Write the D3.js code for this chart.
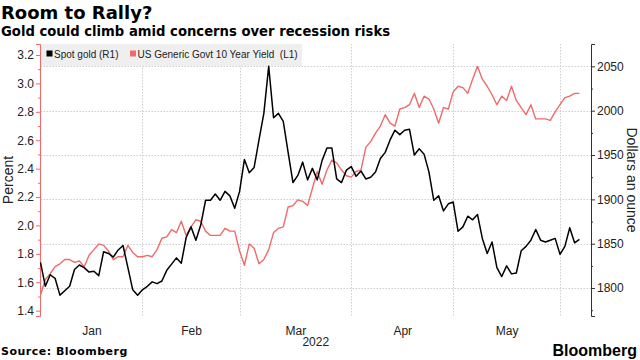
<!DOCTYPE html>
<html>
<head>
<meta charset="utf-8">
<script src="https://cdn.jsdelivr.net/npm/d3@7"></script>
<style>
  html, body { margin: 0; padding: 0; background: #fff; }
  svg { display: block; }
  text { font-family: "Liberation Sans", Arial, sans-serif; }
</style>
</head>
<body>
<svg id="chart" width="640" height="360"></svg>
<script>
// ---- Data (one value per weekday, Dec 31 2021 .. Jun 6 2022) ----
const goldPrice = [
  1829, 1802, 1815, 1811, 1792, 1797, 1802, 1821, 1826, 1823,
  1818, 1819, 1814, 1841, 1839, 1835, 1843, 1848, 1823, 1798,
  1792, 1798, 1802, 1807, 1805, 1808, 1820, 1827, 1834, 1828,
  1857, 1869, 1854, 1871, 1899, 1899, 1906, 1899, 1909, 1904,
  1890, 1909, 1945, 1930, 1936, 1967, 1997, 2050, 1992, 1997,
  1988, 1953, 1919, 1927, 1942, 1922, 1935, 1922, 1944, 1958,
  1958, 1923, 1919, 1933, 1937, 1926, 1932, 1923, 1925, 1931,
  1946, 1953, 1967, 1978, 1973, 1978, 1979, 1950, 1957, 1951,
  1931, 1899, 1904, 1887, 1895, 1897, 1864, 1869, 1881, 1877,
  1883, 1856, 1839, 1852, 1823, 1813, 1825, 1816, 1817, 1842,
  1847, 1854, 1866, 1854, 1852, 1854, 1856, 1838, 1847, 1868,
  1851, 1855
];
const yield10y = [
  1.51, 1.62, 1.66, 1.71, 1.73, 1.76, 1.76, 1.74, 1.75, 1.71,
  1.79, 1.83, 1.87, 1.86, 1.82, 1.76, 1.78, 1.78, 1.86, 1.81,
  1.78, 1.78, 1.79, 1.78, 1.83, 1.91, 1.92, 1.97, 1.95, 2.03,
  1.93, 1.99, 2.04, 2.03, 1.96, 1.93, 1.93, 1.93, 1.98, 1.96,
  1.96, 1.82, 1.72, 1.87, 1.84, 1.73, 1.76, 1.83, 1.95, 1.98,
  1.99, 2.13, 2.14, 2.18, 2.17, 2.14, 2.26, 2.38, 2.29, 2.39,
  2.46, 2.44, 2.39, 2.35, 2.34, 2.38, 2.39, 2.55, 2.59, 2.65,
  2.70, 2.78, 2.72, 2.70, 2.82, 2.83, 2.85, 2.93, 2.83, 2.91,
  2.89, 2.82, 2.72, 2.83, 2.82, 2.94, 2.98, 2.97, 2.93, 3.03,
  3.12, 3.03, 2.98, 2.92, 2.85, 2.91, 2.88, 2.98, 2.88, 2.83,
  2.78, 2.85, 2.75, 2.75, 2.75, 2.74, 2.80, 2.85, 2.90, 2.91,
  2.93, 2.93
];
const months = ["Jan", "Feb", "Mar", "Apr", "May"];
const monthBounds = [0, 21, 41, 64, 85, 107];   // weekday index of month boundaries
const yearLabel = "2022";
const yieldTicks = [1.4, 1.6, 1.8, 2.0, 2.2, 2.4, 2.6, 2.8, 3.0, 3.2];
const yieldMinor = [1.5, 1.7, 1.9, 2.1, 2.3, 2.5, 2.7, 2.9, 3.1];
const goldTicks = [1800, 1850, 1900, 1950, 2000, 2050];
const goldMinor = [1775, 1825, 1875, 1925, 1975, 2025];
const seriesNames = ["Spot gold (R1)", "US Generic Govt 10 Year Yield  (L1)"];

// ---- Layout ----
const svg = d3.select("#chart");
const L = 40.5, R = 591, T = 44, B = 316;
const RED = "#ef6b6b";

const x = d3.scaleLinear().domain([0, 113.38]).range([L, R]);
const yY = d3.scaleLinear().domain([1.3627, 3.2774]).range([B, T]);
const yG = d3.scaleLinear().domain([1768.5, 2075.2]).range([B, T]);

// Titles
svg.append("text").attr("x", 1).attr("y", 19)
  .style("font-family", "'DejaVu Sans', sans-serif").style("font-weight", "bold")
  .style("font-size", "18px").attr("fill", "#000").text("Room to Rally?");
svg.append("text").attr("x", 1).attr("y", 36)
  .style("font-family", "'DejaVu Sans', sans-serif").style("font-weight", "bold")
  .style("font-size", "13.2px").attr("fill", "#000").text("Gold could climb amid concerns over recession risks");

// Gridlines (horizontal from right axis ticks)
const grid = svg.append("g");
grid.selectAll("line.h").data(goldTicks).join("line")
  .attr("x1", L).attr("x2", R)
  .attr("y1", d => Math.round(yG(d)) + 0.5).attr("y2", d => Math.round(yG(d)) + 0.5)
  .attr("stroke", "#cfcfcf").attr("stroke-dasharray", "1.5,1.5");
grid.selectAll("line.v").data(monthBounds.slice(1)).join("line")
  .attr("x1", d => Math.round(x(d)) + 0.5).attr("x2", d => Math.round(x(d)) + 0.5)
  .attr("y1", T).attr("y2", B)
  .attr("stroke", "#cfcfcf").attr("stroke-dasharray", "1.5,1.5");

// Legend
const leg = svg.append("g");
leg.append("rect").attr("x", 40).attr("y", 44).attr("width", 262).attr("height", 22).attr("fill", "#efefef");
leg.append("rect").attr("x", 46.5).attr("y", 50.5).attr("width", 6).attr("height", 6).attr("fill", "#000");
leg.append("text").attr("x", 54).attr("y", 57.5).style("font-size", "10px").style("white-space", "pre")
  .attr("fill", "#222").text(seriesNames[0]);
leg.append("rect").attr("x", 130).attr("y", 50.5).attr("width", 6).attr("height", 6).attr("fill", RED);
leg.append("text").attr("x", 137.5).attr("y", 57.5).style("font-size", "10px").style("white-space", "pre")
  .attr("fill", "#222").text(seriesNames[1]);

// Left axis (yield)
const gl = svg.append("g").attr("transform", `translate(${L - 0.5},0)`);
gl.call(d3.axisLeft(yY).tickValues(yieldTicks).tickSize(4).tickPadding(2).tickFormat(d3.format(".1f")));
gl.append("g").call(d3.axisLeft(yY).tickValues(yieldMinor).tickSize(2).tickFormat(""))
  .select(".domain").remove();
gl.selectAll("path.domain").attr("stroke", RED);
gl.selectAll("line").attr("stroke", RED);
gl.selectAll("text").style("font-size", "12px").style("font-family", "'Liberation Sans', Arial, sans-serif").attr("fill", "#222");

// Right axis (gold)
const gr = svg.append("g").attr("transform", `translate(${R},0)`);
gr.call(d3.axisRight(yG).tickValues(goldTicks).tickSize(4).tickPadding(2).tickFormat(d3.format("d")));
gr.append("g").call(d3.axisRight(yG).tickValues(goldMinor).tickSize(2).tickFormat(""))
  .select(".domain").remove();
gr.selectAll("path.domain").attr("stroke", "#333");
gr.selectAll("line").attr("stroke", "#333");
gr.selectAll("text").style("font-size", "12px").style("font-family", "'Liberation Sans', Arial, sans-serif").attr("fill", "#222");

// Bottom axis (month labels centred in each month)
const centers = months.map((m, i) => (monthBounds[i] + monthBounds[i + 1]) / 2);
const gb = svg.append("g").attr("transform", `translate(0,${B})`);
gb.call(d3.axisBottom(x).tickValues(centers).tickSize(0).tickPadding(10).tickFormat((d, i) => months[i]));
gb.select(".domain").remove();
gb.selectAll("text").style("font-size", "12px").style("font-family", "'Liberation Sans', Arial, sans-serif").attr("fill", "#222");
svg.append("text").attr("x", (L + R) / 2).attr("y", 346).attr("text-anchor", "middle")
  .style("font-size", "12px").attr("fill", "#222").text(yearLabel);

// Axis titles
svg.append("text").attr("transform", "translate(13,180) rotate(-90)").attr("text-anchor", "middle")
  .style("font-size", "14px").attr("fill", "#222").text("Percent");
svg.append("text").attr("transform", "translate(627,180) rotate(90)").attr("text-anchor", "middle")
  .style("font-size", "14px").attr("fill", "#222").text("Dollars an ounce");

// Lines
const lineY = d3.line().x((d, i) => x(i)).y(d => yY(d));
const lineG = d3.line().x((d, i) => x(i)).y(d => yG(d));
svg.append("path").datum(yield10y).attr("d", lineY).attr("fill", "none")
  .attr("stroke", RED).attr("stroke-width", 1.4).attr("stroke-linejoin", "round");
svg.append("path").datum(goldPrice).attr("d", lineG).attr("fill", "none")
  .attr("stroke", "#000").attr("stroke-width", 1.5).attr("stroke-linejoin", "round");

// Footer
svg.append("text").attr("x", 1).attr("y", 355)
  .style("font-family", "'DejaVu Sans', sans-serif").style("font-weight", "bold")
  .style("font-size", "11px").style("letter-spacing", "0.5px").attr("fill", "#000").text("Source: Bloomberg");
svg.append("text").attr("x", 637).attr("y", 356).attr("text-anchor", "end")
  .style("font-weight", "bold").style("font-size", "16px").attr("fill", "#000").text("Bloomberg");
</script>
</body>
</html>
